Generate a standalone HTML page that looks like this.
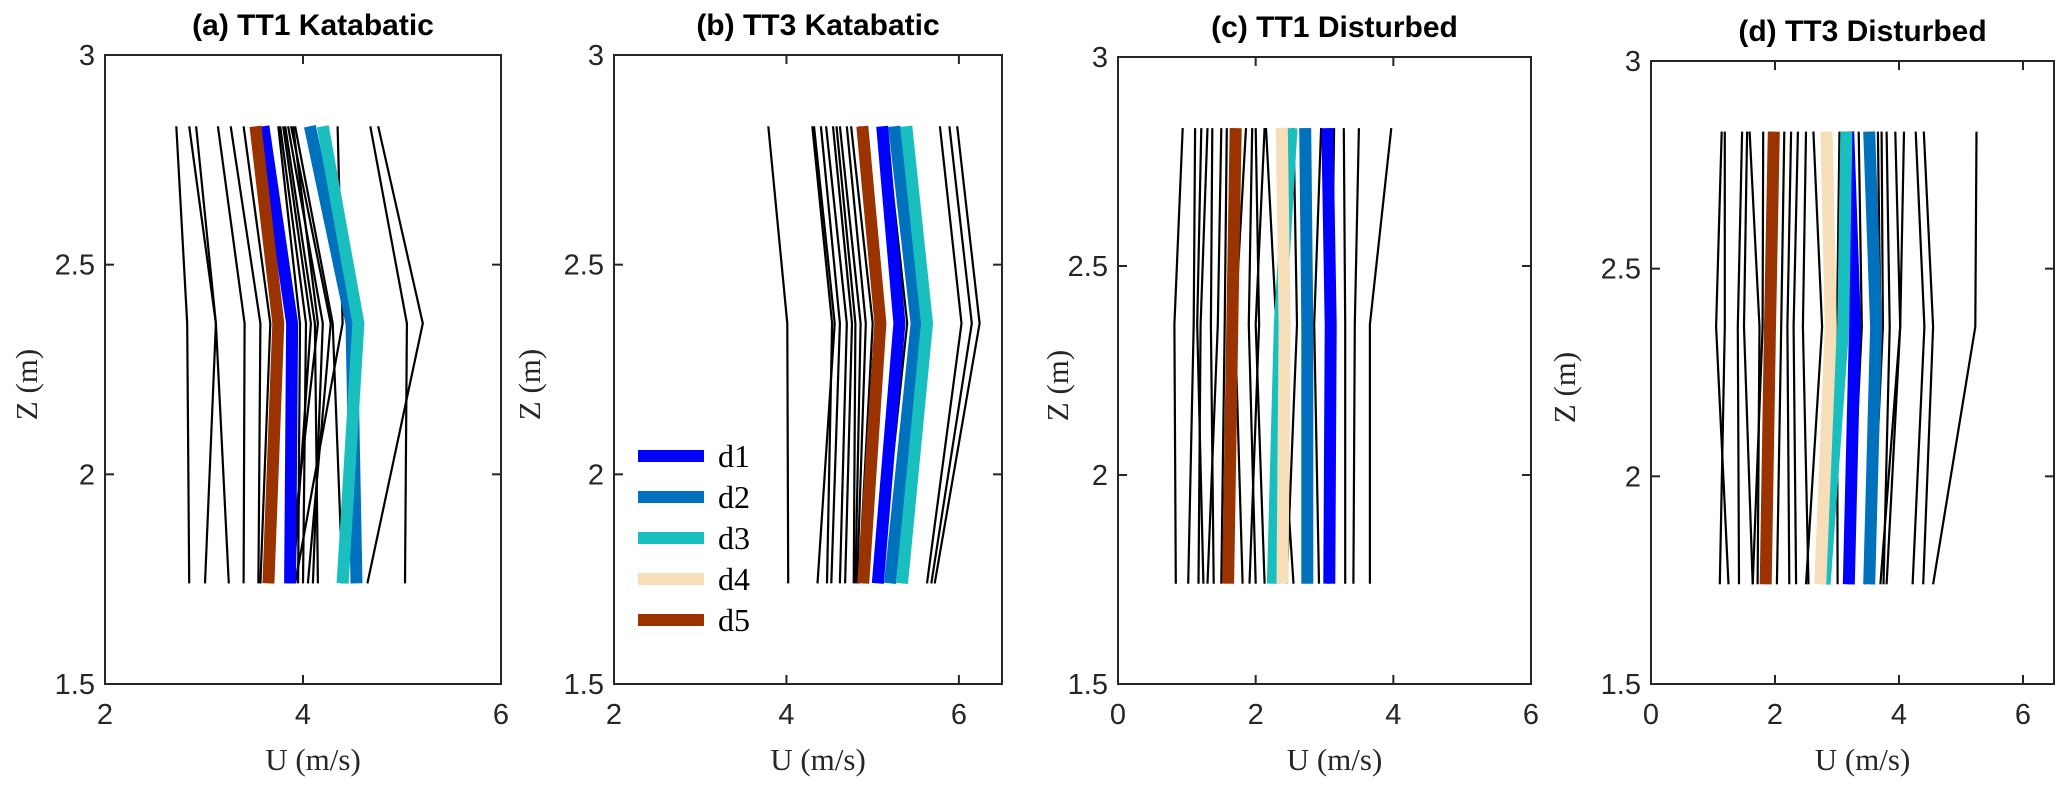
<!DOCTYPE html>
<html><head><meta charset="utf-8"><style>
html,body{margin:0;padding:0;background:#fff;}
svg{display:block;}
.tk{font-family:"Liberation Sans",sans-serif;font-size:29px;fill:#262626;}
.ttl{font-family:"Liberation Sans",sans-serif;font-size:30px;font-weight:bold;fill:#000;}
.lab{font-family:"Liberation Serif",serif;font-size:31px;fill:#262626;}
.leg{font-family:"Liberation Serif",serif;font-size:32px;fill:#000;}
</style></head><body>
<svg id="chart" width="2067" height="789" viewBox="0 0 2067 789" xmlns="http://www.w3.org/2000/svg"></svg>
<script>
const zLevels = [2.83, 2.36, 1.74];
const boldNames = ['d1','d2','d3','d4','d5'];
const boldColors = {d1:'#0000ff', d2:'#0072bd', d3:'#19bfbf', d4:'#f5deb8', d5:'#9a3300'};

const aBlack = [[2.72,2.83,2.85],[2.85,3.12,3.01],[2.92,3.12,3.25],[3.14,3.41,3.40],[3.27,3.57,3.55],[3.40,3.67,3.57],[3.75,3.97,3.95],[3.77,4.03,4.00],[3.80,4.08,3.90],[3.82,4.12,4.15],[3.85,4.20,4.10],[3.88,4.28,4.05],[3.90,4.15,3.85],[3.92,4.30,4.40],[4.35,4.40,3.92],[4.68,5.05,5.03],[4.76,5.21,4.65]];
const aBold = {d5:[3.52,3.75,3.65], d1:[3.60,3.89,3.87], d2:[4.07,4.49,4.54], d3:[4.20,4.56,4.40]};

const bBlack = [[3.79,4.01,4.02],[4.30,4.53,4.47],[4.32,4.56,4.36],[4.40,4.62,4.52],[4.46,4.70,4.62],[4.54,4.76,4.68],[4.58,4.80,4.78],[4.62,4.86,4.80],[4.70,4.92,4.82],[4.75,5.00,4.84],[4.85,5.10,4.90],[5.15,5.40,5.08],[5.78,6.03,5.63],[5.89,6.15,5.68],[5.98,6.24,5.72]];
const bBold = {d5:[4.88,5.09,4.89], d1:[5.11,5.31,5.06], d2:[5.25,5.51,5.20], d3:[5.39,5.63,5.34]};

const cBlack = [[0.94,0.82,0.84],[1.12,1.10,1.02],[1.21,1.15,1.24],[1.30,1.20,1.17],[1.37,1.35,1.39],[1.50,1.45,1.30],[1.58,1.55,1.50],[1.86,1.70,1.81],[1.95,1.90,2.00],[2.00,2.05,1.91],[2.13,2.00,2.13],[2.15,2.30,2.55],[2.55,2.60,2.45],[2.95,2.85,2.92],[3.14,3.10,3.05],[3.28,3.30,3.30],[3.50,3.44,3.42],[3.97,3.66,3.66]];
const cBold = {d5:[1.71,1.66,1.60], d4:[2.38,2.42,2.39], d3:[2.52,2.35,2.25], d2:[2.72,2.75,2.75], d1:[3.04,3.09,3.07]};

const dBlack = [[1.14,1.05,1.25],[1.19,1.19,1.11],[1.47,1.40,1.42],[1.55,1.50,1.64],[1.59,1.75,1.72],[1.81,1.80,1.64],[2.15,2.10,2.03],[2.26,2.20,2.23],[2.37,2.30,2.34],[2.50,2.45,2.54],[2.62,2.76,2.50],[3.04,3.00,3.01],[3.35,3.40,3.20],[3.66,3.70,3.45],[3.72,3.74,3.55],[3.80,3.85,3.75],[3.94,4.02,3.80],[4.08,4.02,3.70],[4.27,4.41,4.22],[4.40,4.55,4.39],[5.25,5.23,4.55]];
const dBold = {d5:[1.98,1.92,1.85], d4:[2.83,2.90,2.73], d3:[3.15,3.10,2.80], d1:[3.18,3.29,3.19], d2:[3.52,3.63,3.52]};

const yTicks = [3, 2.5, 2, 1.5];
const yTickLabels = ['3','2.5','2','1.5'];
const xTicksAB = [2, 4, 6];
const xTicksCD = [0, 2, 4, 6];

const panels = [
 {id:'a', title:'(a) TT1 Katabatic', x0:105, x1:501, top:55, bot:684, xmin:2, xmax:6, ticks:xTicksAB, black:aBlack, bold:aBold, zlx:37},
 {id:'b', title:'(b) TT3 Katabatic', x0:614, x1:1002, top:55, bot:684, xmin:2, xmax:6.5, ticks:xTicksAB, black:bBlack, bold:bBold, zlx:540},
 {id:'c', title:'(c) TT1 Disturbed', x0:1118, x1:1531, top:57, bot:684, xmin:0, xmax:6, ticks:xTicksCD, black:cBlack, bold:cBold, zlx:1068},
 {id:'d', title:'(d) TT3 Disturbed', x0:1651, x1:2054, top:61, bot:684, xmin:0, xmax:6.5, ticks:xTicksCD, black:dBlack, bold:dBold, zlx:1575}
];

const NS='http://www.w3.org/2000/svg';
const svg=document.getElementById('chart');
function mk(tag, attrs, parent){const e=document.createElementNS(NS,tag);for(const k in attrs)e.setAttribute(k,attrs[k]);(parent||svg).appendChild(e);return e;}

panels.forEach(p=>{
  const g=mk('g',{});
  
  
  const xs=u=>p.x0+(u-p.xmin)/(p.xmax-p.xmin)*(p.x1-p.x0);
  const ys=z=>p.top+(3-z)/(3-1.5)*(p.bot-p.top);
  const pts=arr=>arr.map((u,i)=>xs(u).toFixed(1)+','+ys(zLevels[i]).toFixed(1)).join(' ');
  p.black.forEach((arr,i)=>{
    const l=mk('polyline',{points:pts(arr),fill:'none',stroke:'#000','stroke-width':2.2},g);
    
    
  });
  boldNames.forEach(n=>{
    if(!p.bold[n])return;
    const l=mk('polyline',{points:pts(p.bold[n]),fill:'none',stroke:boldColors[n],'stroke-width':12},g);
    
    
  });
  const box=mk('rect',{x:p.x0,y:p.top,width:p.x1-p.x0,height:p.bot-p.top,fill:'none',stroke:'#262626','stroke-width':2},g);
  
  
  yTicks.forEach((t,i)=>{
    const y=ys(t);
    mk('line',{x1:p.x0,y1:y,x2:p.x0+9,y2:y,stroke:'#262626','stroke-width':2},g);
    mk('line',{x1:p.x1,y1:y,x2:p.x1-9,y2:y,stroke:'#262626','stroke-width':2},g);
    const tx=mk('text',{x:p.x0-10,y:y+10,'text-anchor':'end',class:'tk'},g);
    tx.textContent=yTickLabels[i];
    
    
  });
  p.ticks.forEach(t=>{
    const x=xs(t);
    mk('line',{x1:x,y1:p.bot,x2:x,y2:p.bot-9,stroke:'#262626','stroke-width':2},g);
    mk('line',{x1:x,y1:p.top,x2:x,y2:p.top+9,stroke:'#262626','stroke-width':2},g);
    const tx=mk('text',{x:x,y:p.bot+40,'text-anchor':'middle',class:'tk'},g);
    tx.textContent=String(t);
    
    
  });
  const ttl=mk('text',{x:(p.x0+p.x1)/2+10,y:p.top-20,'text-anchor':'middle',class:'ttl'},g);
  ttl.textContent=p.title;
  
  
  const xl=mk('text',{x:(p.x0+p.x1)/2+10,y:p.bot+86,'text-anchor':'middle',class:'lab'},g);
  xl.textContent='U (m/s)';
  
  
  const yc=(p.top+p.bot)/2+15;
  const yl=mk('text',{x:p.zlx,y:yc,'text-anchor':'middle',class:'lab',transform:'rotate(-90 '+p.zlx+' '+yc+')'},g);
  yl.textContent='Z (m)';
  
  
});

// legend in panel b
const lg=mk('g',{});


boldNames.forEach((n,i)=>{
  const y=456+i*41;
  const ln=mk('line',{x1:638,y1:y,x2:704,y2:y,stroke:boldColors[n],'stroke-width':12},lg);
  
  
  const t=mk('text',{x:718,y:y+11,class:'leg'},lg);
  t.textContent=n;
  
  
});
</script>
</body></html>
